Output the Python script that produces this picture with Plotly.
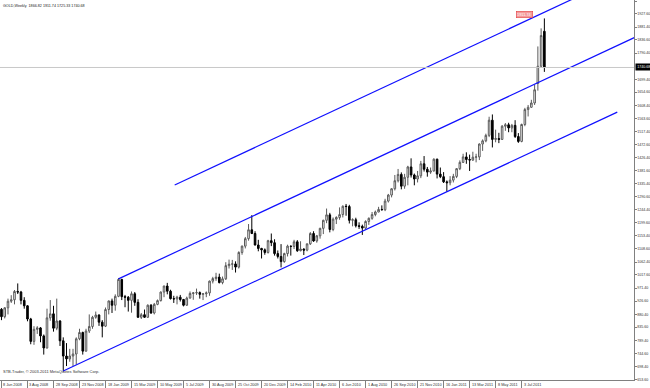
import pandas as pd
import plotly.graph_objects as go

# ---------------- data (GOLD, Weekly) ----------------
opens = [887, 898, 872, 903, 926, 931, 960, 958, 929, 910, 864, 786, 828, 833, 805, 763, 868, 882, 832, 857,
         788, 735, 725, 735, 742, 795, 817, 752, 822, 838, 870, 878, 853, 839, 897, 927, 912, 943, 1002, 942,
         940, 929, 952, 922, 870, 879, 870, 912, 885, 915, 928, 958, 979, 961, 935, 934, 940, 932, 912, 937,
         953, 955, 956, 950, 952, 955, 996, 1005, 1010, 991, 1004, 1050, 1055, 1056, 1045, 1096, 1118, 1144, 1175, 1162,
         1122, 1110, 1105, 1096, 1137, 1130, 1092, 1082, 1064, 1092, 1118, 1117, 1133, 1102, 1108, 1104, 1126, 1162, 1136, 1154,
         1180, 1208, 1227, 1176, 1212, 1218, 1228, 1257, 1256, 1208, 1210, 1189, 1187, 1181, 1204, 1215, 1228, 1237, 1246, 1245,
         1275, 1296, 1318, 1346, 1368, 1327, 1358, 1394, 1366, 1352, 1363, 1405, 1386, 1376, 1380, 1421, 1369, 1360, 1342, 1339,
         1348, 1361, 1388, 1410, 1429, 1420, 1418, 1428, 1429, 1474, 1485, 1504, 1557, 1490, 1493, 1490, 1536, 1541, 1530, 1539,
         1500, 1483, 1542, 1594, 1602, 1617, 1685, 1745, 1866.82]
highs = [905, 902, 905, 935, 947, 965, 988, 962, 940, 912, 868, 839, 839, 836, 810, 900, 930, 910, 935, 860,
         800, 780, 760, 760, 800, 830, 820, 830, 880, 875, 890, 880, 860, 904, 928, 935, 950, 1007, 1004, 948,
         944, 960, 958, 933, 885, 897, 915, 916, 920, 932, 960, 980, 990, 966, 945, 945, 948, 934, 942, 960,
         958, 970, 960, 954, 960, 998, 1011, 1025, 1022, 1012, 1062, 1071, 1070, 1065, 1100, 1120, 1150, 1195, 1226, 1170,
         1140, 1112, 1110, 1140, 1162, 1142, 1103, 1125, 1095, 1123, 1120, 1140, 1139, 1135, 1110, 1127, 1167, 1170, 1157, 1182,
         1210, 1249, 1234, 1218, 1222, 1253, 1260, 1265, 1262, 1215, 1217, 1201, 1193, 1208, 1218, 1237, 1242, 1255, 1260, 1283,
         1300, 1320, 1366, 1387, 1375, 1370, 1398, 1424, 1371, 1380, 1415, 1432, 1394, 1392, 1424, 1423, 1392, 1376, 1347, 1362,
         1370, 1390, 1417, 1440, 1445, 1437, 1447, 1440, 1476, 1490, 1510, 1569, 1577, 1524, 1513, 1540, 1547, 1548, 1544, 1557,
         1512, 1545, 1600, 1610, 1628, 1681, 1814, 1877, 1911.74]
lows = [862, 860, 866, 880, 920, 915, 951, 915, 900, 856, 776, 774, 812, 783, 740, 761, 858, 820, 825, 770,
        681, 700, 715, 700, 705, 790, 740, 750, 815, 830, 865, 840, 800, 836, 880, 885, 893, 940, 930, 905,
        890, 886, 910, 868, 864, 868, 868, 882, 880, 912, 925, 940, 950, 932, 920, 915, 925, 908, 910, 935,
        931, 948, 935, 930, 940, 945, 988, 997, 988, 985, 1000, 1040, 1035, 1026, 1040, 1088, 1110, 1137, 1160, 1120,
        1100, 1075, 1088, 1092, 1118, 1085, 1075, 1044, 1060, 1082, 1085, 1108, 1098, 1100, 1087, 1100, 1122, 1133, 1130, 1144,
        1160, 1198, 1166, 1170, 1195, 1210, 1218, 1224, 1197, 1187, 1183, 1178, 1157, 1176, 1192, 1210, 1222, 1236, 1242, 1240,
        1270, 1288, 1312, 1340, 1316, 1318, 1330, 1357, 1330, 1340, 1355, 1378, 1360, 1370, 1378, 1354, 1355, 1338, 1308, 1330,
        1340, 1355, 1383, 1408, 1405, 1380, 1415, 1410, 1418, 1450, 1480, 1498, 1462, 1480, 1477, 1488, 1520, 1515, 1515, 1495,
        1478, 1480, 1536, 1570, 1600, 1610, 1660, 1740, 1725.33]
closes = [898, 872, 903, 926, 931, 960, 958, 929, 910, 864, 786, 828, 833, 805, 763, 868, 882, 832, 857, 788,
          735, 725, 735, 742, 795, 817, 752, 822, 838, 870, 878, 853, 839, 897, 927, 912, 943, 1002, 942, 940,
          929, 952, 922, 870, 879, 870, 912, 885, 915, 928, 958, 979, 961, 935, 934, 940, 932, 912, 937, 953,
          955, 956, 950, 952, 955, 996, 1005, 1010, 991, 1004, 1050, 1055, 1056, 1045, 1096, 1118, 1144, 1175, 1162, 1122,
          1110, 1105, 1096, 1137, 1130, 1092, 1082, 1064, 1092, 1118, 1117, 1133, 1102, 1108, 1104, 1126, 1162, 1136, 1154, 1180,
          1208, 1227, 1176, 1212, 1218, 1228, 1257, 1256, 1208, 1210, 1189, 1187, 1181, 1204, 1215, 1228, 1237, 1246, 1245, 1275,
          1296, 1318, 1346, 1368, 1327, 1358, 1394, 1366, 1352, 1363, 1405, 1386, 1376, 1380, 1421, 1369, 1360, 1342, 1339, 1348,
          1361, 1388, 1410, 1429, 1420, 1418, 1428, 1429, 1474, 1485, 1504, 1557, 1490, 1493, 1490, 1536, 1541, 1530, 1539, 1500,
          1483, 1542, 1594, 1602, 1617, 1663, 1745, 1852, 1740.68]
first_week = "2008-06-01"

# channel lines: (start date, start price, end date, end price)
lower_line_dates = ["2008-10-19", "2012-01-25"]
lower_line_prices = [683, 1585]
middle_line_dates = ["2009-02-15", "2012-04-08"]
middle_line_prices = [1004, 1873]
upper_line_dates = ["2009-06-16", "2012-04-08"]
upper_line_prices = [1331, 2108]

price_tick_labels = ["1972.40", "1927.60", "1881.40", "1836.60", "1790.40", "1699.40", "1654.60",
                     "1608.40", "1563.60", "1517.40", "1472.60", "1426.40", "1381.60", "1335.40",
                     "1290.60", "1244.40", "1199.60", "1153.40", "1108.60", "1062.40", "1017.60",
                     "971.40", "926.60", "880.40", "835.60", "789.40", "744.60", "698.40", "653.60"]
date_tick_dates = ["2008-06-08", "2008-08-03", "2008-09-28", "2008-11-23", "2009-01-18", "2009-03-15",
                   "2009-05-10", "2009-07-05", "2009-08-30", "2009-10-25", "2009-12-20", "2010-02-14",
                   "2010-04-11", "2010-06-06", "2010-08-01", "2010-09-26", "2010-11-21", "2011-01-16",
                   "2011-03-13", "2011-05-08", "2011-07-03"]
date_tick_labels = ["8 Jun 2008", "3 Aug 2008", "28 Sep 2008", "23 Nov 2008", "18 Jan 2009", "15 Mar 2009",
                    "10 May 2009", "5 Jul 2009", "30 Aug 2009", "25 Oct 2009", "20 Dec 2009", "14 Feb 2010",
                    "11 Apr 2010", "6 Jun 2010", "1 Aug 2010", "26 Sep 2010", "21 Nov 2010", "16 Jan 2011",
                    "13 Mar 2011", "8 May 2011", "3 Jul 2011"]
title_text = "GOLD,Weekly  1866.82 1911.74 1725.33 1740.68"
copyright_text = "STB-Trader, © 2003-2011 MetaQuotes Software Corp."
last_price = 1740.68
high_label = "1911.74"

# ---------------- figure ----------------
dates = pd.date_range(first_week, periods=len(opens), freq="7D")
FONT = "Liberation Sans, Arial, sans-serif"
LINE_BLUE = "#1010ff"
TXT = "#303030"

fig = go.Figure()
fig.add_trace(go.Candlestick(
    x=dates, open=opens, high=highs, low=lows, close=closes,
    increasing=dict(line=dict(color="#5a5a5a", width=1), fillcolor="white"),
    decreasing=dict(line=dict(color="#000000", width=1), fillcolor="black"),
    whiskerwidth=0, showlegend=False, hoverinfo="skip"))

for dts, prs in [(lower_line_dates, lower_line_prices),
                 (middle_line_dates, middle_line_prices),
                 (upper_line_dates, upper_line_prices)]:
    fig.add_trace(go.Scatter(x=pd.to_datetime(dts), y=prs, mode="lines",
                             line=dict(color=LINE_BLUE, width=1.2),
                             showlegend=False, hoverinfo="skip"))

x0 = pd.Timestamp(date_tick_dates[0])
x_range = [x0 - pd.Timedelta(days=3.2), x0 + pd.Timedelta(days=1362)]

fig.update_layout(
    width=650, height=388,
    margin=dict(l=0, r=16, t=0, b=8),
    paper_bgcolor="white", plot_bgcolor="white",
    font=dict(family=FONT, size=3.8, color=TXT),
    xaxis=dict(type="date", range=x_range, showgrid=False, zeroline=False,
               showline=True, linecolor="#808080", linewidth=1,
               ticks="outside", ticklen=7, tickcolor="#808080", tickwidth=1,
               tickvals=pd.to_datetime(date_tick_dates), showticklabels=False,
               rangeslider=dict(visible=False), automargin=False),
    yaxis=dict(side="right", range=[651.4, 1975.9], showgrid=False, zeroline=False,
               showline=True, linecolor="#808080", linewidth=1,
               ticks="outside", ticklen=1.5, tickcolor="#808080",
               tickvals=[float(s) for s in price_tick_labels], ticktext=price_tick_labels,
               ticklabelstandoff=0,
               tickfont=dict(family=FONT, size=3.6, color=TXT), automargin=False),
)

# last price line and label
fig.add_shape(type="line", xref="paper", x0=0, x1=1, yref="y", y0=last_price, y1=last_price,
              line=dict(color="#c8c8c8", width=1))
fig.add_annotation(xref="paper", x=1, xanchor="left", yref="y", y=last_price, yanchor="middle",
                   text=f"{last_price:.2f}", showarrow=False, bgcolor="black", borderpad=1.2,
                   font=dict(family=FONT, size=3.6, color="white"), xshift=0.5)

# date labels, left-aligned after tick marks
for d, t in zip(date_tick_dates, date_tick_labels):
    fig.add_annotation(x=pd.Timestamp(d), xref="x", y=0, yref="paper", yanchor="top", xanchor="left",
                       text=t, showarrow=False, font=dict(family=FONT, size=3.8, color=TXT),
                       borderpad=0, xshift=1, yshift=-1.5)

fig.add_annotation(xref="paper", x=0, xanchor="left", yref="paper", y=1, yanchor="top",
                   text=title_text, showarrow=False, borderpad=0, xshift=2, yshift=-3,
                   font=dict(family=FONT, size=3.7, color="#202020"))
fig.add_annotation(xref="paper", x=0, xanchor="left", yref="paper", y=0, yanchor="bottom",
                   text=copyright_text, showarrow=False, borderpad=0, xshift=2, yshift=5,
                   font=dict(family=FONT, size=4, color=TXT))
fig.add_annotation(xref="x", x=pd.Timestamp("2011-07-10"), yref="y", y=1927, text=high_label,
                   showarrow=False, bgcolor="#f49a9a", bordercolor="#e03030", borderwidth=0.5, borderpad=0.5,
                   font=dict(family=FONT, size=3.9, color="white"))

fig.write_html("out.html")
